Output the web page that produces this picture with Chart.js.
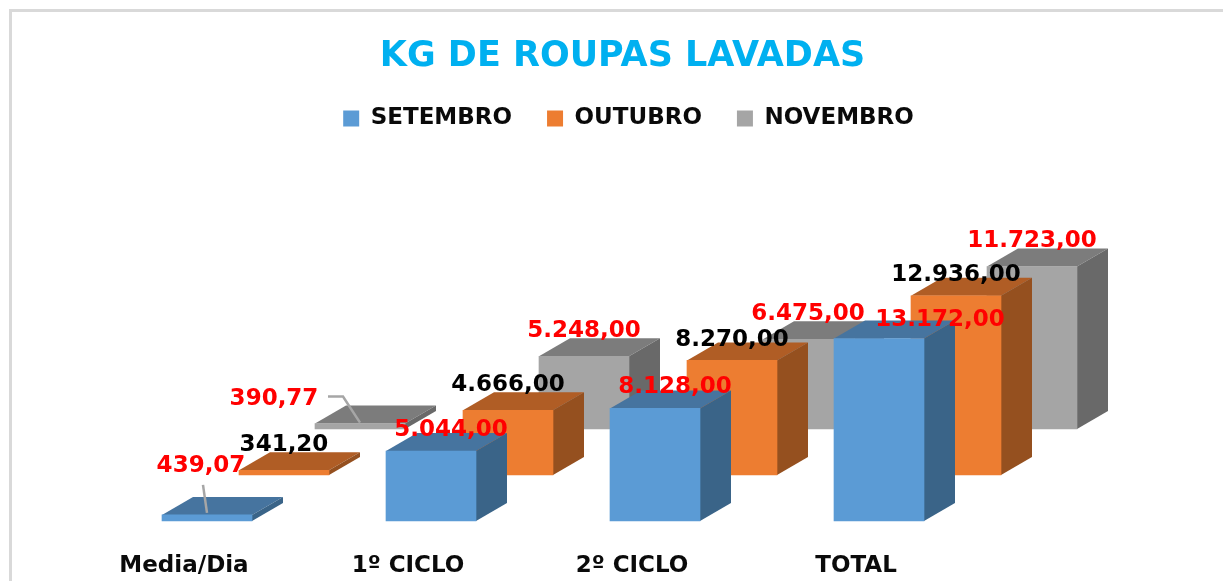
<!DOCTYPE html>
<html>
<head>
<meta charset="utf-8">
<style>
html, body { margin: 0; padding: 0; background: #fff; }
canvas { display: block; }
</style>
<script src="https://cdn.jsdelivr.net/npm/chart.js@4/dist/chart.umd.min.js"></script>
</head>
<body>
<canvas id="roupas" width="1223" height="581"></canvas>
<script>
const categories = ['Media/Dia', '1º CICLO', '2º CICLO', 'TOTAL'];
const setembro = [439.07, 5044, 8128, 13172];
const outubro = [341.20, 4666, 8270, 12936];
const novembro = [390.77, 5248, 6475, 11723];

// depth of a bar and how far back each row sits, in px
const depthX = 31, depthY = 18;
const rowShift = [[0, 0], [77, -46], [153, -92]];
const topColors = ['#46749F', '#B05D25', '#7C7C7C'];
const sideColors = ['#3A6488', '#95501F', '#696969'];
const labelColors = ['#FF0000', '#000000', '#FF0000'];

// label position relative to the bar top centre
const labelNudge = [
    [[-6, -49], [20, -21], [20, -21], [61, -18]],
    [[0, -25], [0, -25], [0, -20], [0, -21]],
    [[-86, -25], [0, -25], [0, -25], [0, -26]]
];

// leader lines, same relative system: [dataset, index, points]
const leaders = [
    [0, 0, [[-4, -30], [0, -2]]],
    [2, 0, [[-32, -27], [-17, -27], [0, -1]]]
];

const fmt = new Intl.NumberFormat('pt-BR', { minimumFractionDigits: 2, maximumFractionDigits: 2 });

const cube = {
    id: 'cube',
    afterLayout(chart) {
        chart.legend.left += 6;
        chart.legend.right += 6;
        chart.legend.top -= 2;
        chart.legend.bottom -= 2;
    },
    beforeDraw(chart) {
        const ctx = chart.ctx;
        ctx.save();
        ctx.strokeStyle = '#D9D9D9';
        ctx.lineWidth = 3;
        ctx.beginPath();
        ctx.moveTo(10.5, 581);
        ctx.lineTo(10.5, 10.5);
        ctx.lineTo(1223, 10.5);
        ctx.stroke();
        ctx.restore();
    },
    beforeDatasetDraw(chart, args) {
        const ctx = chart.ctx;
        const i = args.index;
        ctx.save();
        ctx.translate(rowShift[i][0], rowShift[i][1]);
        args.meta.data.forEach(bar => {
            const l = bar.x - bar.width / 2, r = bar.x + bar.width / 2;
            ctx.fillStyle = topColors[i];
            ctx.beginPath();
            ctx.moveTo(l, bar.y);
            ctx.lineTo(l + depthX, bar.y - depthY);
            ctx.lineTo(r + depthX, bar.y - depthY);
            ctx.lineTo(r, bar.y);
            ctx.closePath();
            ctx.fill();
            ctx.fillStyle = sideColors[i];
            ctx.beginPath();
            ctx.moveTo(r, bar.y);
            ctx.lineTo(r + depthX, bar.y - depthY);
            ctx.lineTo(r + depthX, bar.base - depthY);
            ctx.lineTo(r, bar.base);
            ctx.closePath();
            ctx.fill();
        });
    },
    afterDatasetDraw(chart) {
        chart.ctx.restore();
    },
    afterDatasetsDraw(chart) {
        const ctx = chart.ctx;
        ctx.save();
        ctx.strokeStyle = '#A6A6A6';
        ctx.lineWidth = 2.5;
        leaders.forEach(([d, idx, pts]) => {
            const bar = chart.getDatasetMeta(d).data[idx];
            const ox = bar.x + rowShift[d][0], oy = bar.y + rowShift[d][1];
            ctx.beginPath();
            pts.forEach((p, n) => {
                if (n === 0) ctx.moveTo(ox + p[0], oy + p[1]);
                else ctx.lineTo(ox + p[0], oy + p[1]);
            });
            ctx.stroke();
        });
        ctx.font = 'bold 23px "DejaVu Sans"';
        ctx.textAlign = 'center';
        ctx.textBaseline = 'middle';
        chart.data.datasets.forEach((ds, d) => {
            chart.getDatasetMeta(d).data.forEach((bar, idx) => {
                ctx.fillStyle = labelColors[d];
                ctx.fillText(fmt.format(ds.data[idx]),
                    bar.x + rowShift[d][0] + labelNudge[d][idx][0],
                    bar.y + rowShift[d][1] + labelNudge[d][idx][1]);
            });
        });
        ctx.restore();
    }
};

new Chart(document.getElementById('roupas'), {
    type: 'bar',
    data: {
        labels: categories,
        datasets: [
            { label: 'SETEMBRO', data: setembro, backgroundColor: '#5B9BD5' },
            { label: 'OUTUBRO', data: outubro, backgroundColor: '#ED7D31' },
            { label: 'NOVEMBRO', data: novembro, backgroundColor: '#A5A5A5' }
        ]
    },
    plugins: [cube],
    options: {
        responsive: false,
        animation: false,
        grouped: false,
        barThickness: 90,
        clip: false,
        layout: { padding: { left: 22, right: 0, top: 0, bottom: 0 } },
        plugins: {
            tooltip: { enabled: false },
            title: {
                display: true,
                text: 'KG DE ROUPAS LAVADAS',
                color: '#00B0F0',
                font: { family: '"DejaVu Sans"', size: 35, weight: 'bold', lineHeight: 1 },
                padding: { top: 39, bottom: 0 }
            },
            legend: {
                position: 'top',
                labels: {
                    color: '#0A0A0A',
                    boxWidth: 16,
                    boxHeight: 16,
                    padding: 35,
                    font: { family: '"DejaVu Sans"', size: 23, weight: 'bold' }
                }
            }
        },
        scales: {
            x: {
                grid: { display: false },
                border: { display: false },
                ticks: {
                    color: '#0A0A0A',
                    autoSkip: false,
                    maxRotation: 0,
                    labelOffset: -23,
                    padding: 23,
                    font: { family: '"DejaVu Sans"', size: 23, weight: 'bold' }
                },
                afterFit(s) { s.height = 60; }
            },
            y: {
                min: 0,
                max: 27355,
                grid: { display: false },
                border: { display: false },
                ticks: { display: false },
                afterFit(s) { s.width = 73; }
            },
            y2: {
                position: 'right',
                grid: { display: false },
                border: { display: false },
                ticks: { display: false },
                afterFit(s) { s.width = 232; }
            }
        }
    }
});
</script>
</body>
</html>
